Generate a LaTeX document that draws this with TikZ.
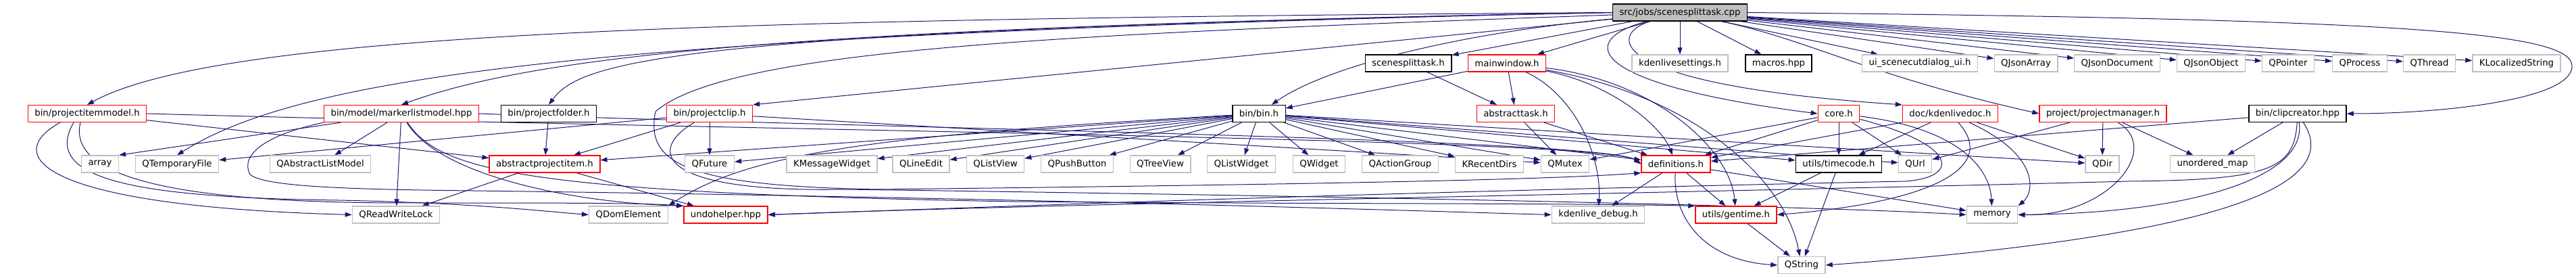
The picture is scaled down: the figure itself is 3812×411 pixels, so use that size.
\documentclass[tikz,border=0pt]{standalone}
\usepackage{fontspec}
\setmainfont{DejaVu Sans}
\usepackage{tikz}
\usetikzlibrary{arrows.meta,backgrounds}
\definecolor{edgeblue}{HTML}{191970}
\definecolor{boxgray}{HTML}{BFBFBF}

\begin{document}
\begin{tikzpicture}[
  x=1pt, y=-1pt,
  hdr/.style={draw=black, line width=1.3pt, fill=white, minimum height=25pt,
              inner xsep=10pt, inner ysep=0pt, font=\fontsize{13.3}{16}\selectfont},
  hdrred/.style={hdr, draw=red},
  hdrsys/.style={hdr, draw=boxgray},
  hdrroot/.style={hdr, fill=boxgray},
  inc/.style={-{Triangle[length=10pt,width=7pt]}, edgeblue, line width=1pt}
]
  \useasboundingbox (0,0) rectangle (3812,411);

  % the file itself
  \node[hdrroot] (root) at (2486,18.5) {src/jobs/scenesplittask.cpp};

  % first level
  \node[hdr]    (sst) at (2084,93.5) {scenesplittask.h};
  \node[hdrred] (mw)  at (2230,93.5) {mainwindow.h};
  \node[hdrsys] (ks)  at (2486,93.5) {kdenlivesettings.h};
  \node[hdr]    (mac) at (2632,93.5) {macros.hpp};
  \node[hdrsys] (ui)  at (2841,93.5) {ui\_scenecutdialog\_ui.h};
  \node[hdrsys] (qja) at (2998,93.5) {QJsonArray};
  \node[hdrsys] (qjd) at (3133,93.5) {QJsonDocument};
  \node[hdrsys] (qjo) at (3272,93.5) {QJsonObject};
  \node[hdrsys] (qp)  at (3386,93.5) {QPointer};
  \node[hdrsys] (qpr) at (3492,93.5) {QProcess};
  \node[hdrsys] (qth) at (3595,93.5) {QThread};
  \node[hdrsys] (kls) at (3724,93.5) {KLocalizedString};

  % second level
  \node[hdrred] (pim)  at (129,168)  {bin/projectitemmodel.h};
  \node[hdrred] (mlm)  at (594,168)  {bin/model/markerlistmodel.hpp};
  \node[hdr]    (pf)   at (812,168)  {bin/projectfolder.h};
  \node[hdrred] (pc)   at (1050,168) {bin/projectclip.h};
  \node[hdr]    (bin)  at (1863,168) {bin/bin.h};
  \node[hdrred] (at)   at (2243,168) {abstracttask.h};
  \node[hdrred] (core) at (2721,168) {core.h};
  \node[hdrred] (doc)  at (2886,168) {doc/kdenlivedoc.h};
  \node[hdrred] (pm)   at (3112,168) {project/projectmanager.h};
  \node[hdr]    (cc)   at (3400,168) {bin/clipcreator.hpp};

  % third level
  \node[hdrsys] (arr)  at (148,242.5)  {array};
  \node[hdrsys] (qtf)  at (262,242.5)  {QTemporaryFile};
  \node[hdrsys] (qalm) at (474,242.5)  {QAbstractListModel};
  \node[hdrred] (api)  at (806,242.5)  {abstractprojectitem.h};
  \node[hdrsys] (qfu)  at (1050,242.5) {QFuture};
  \node[hdrsys] (kmw)  at (1231,242.5) {KMessageWidget};
  \node[hdrsys] (qle)  at (1363,242.5) {QLineEdit};
  \node[hdrsys] (qlv)  at (1473,242.5) {QListView};
  \node[hdrsys] (qpb)  at (1594,242.5) {QPushButton};
  \node[hdrsys] (qtv)  at (1717,242.5) {QTreeView};
  \node[hdrsys] (qlw)  at (1837,242.5) {QListWidget};
  \node[hdrsys] (qw)   at (1952,242.5) {QWidget};
  \node[hdrsys] (qag)  at (2072,242.5) {QActionGroup};
  \node[hdrsys] (krd)  at (2204,242.5) {KRecentDirs};
  \node[hdrsys] (qmu)  at (2316,242.5) {QMutex};
  \node[hdrred] (def)  at (2480,242.5) {definitions.h};
  \node[hdr]    (tc)   at (2721,242.5) {utils/timecode.h};
  \node[hdrsys] (qurl) at (2834,242.5) {QUrl};
  \node[hdrsys] (qdir) at (3111,242.5) {QDir};
  \node[hdrsys] (um)   at (3274,242.5) {unordered\_map};

  % fourth and fifth level
  \node[hdrsys] (qrwl) at (586,317.5)  {QReadWriteLock};
  \node[hdrsys] (qde)  at (930,317.5)  {QDomElement};
  \node[hdrred] (uh)   at (1074,317.5) {undohelper.hpp};
  \node[hdrsys] (kd)   at (2365,317.5) {kdenlive\_debug.h};
  \node[hdrred] (gt)   at (2569,317.5) {utils/gentime.h};
  \node[hdrsys] (mem)  at (2948,317.5) {memory};
  \node[hdrsys] (qs)   at (2666,392)   {QString};

  \begin{scope}[on background layer]
  % includes of the .cpp
  \draw[inc] (root.west) .. controls (1100,28) and (330,45) .. (pim.north);
  \draw[inc] (root.west) .. controls (1200,40) and (800,80) .. (mlm.north);
  \draw[inc] (root.west) .. controls (900,50) and (450,110) .. (qtf.north);
  \draw[inc] (root.west) .. controls (1000,45) and (860,90) .. (pf.north);
  \draw[inc] (root) -- (pc.north east);
  \draw[inc] (root) .. controls (2150,50) and (1960,100) .. (bin);
  \draw[inc] (root) .. controls (1600,50) and (1080,70) .. (970,165)
             .. controls (955,240) and (1010,275) .. (1300,280)
             .. controls (2000,272) and (2300,265) .. (def.south west);
  \foreach \t in {sst,mw,ks,mac,ui,qja,qjd,qjo,qp,qpr,qth,kls}
    \draw[inc] (root) -- (\t);
  \draw[inc] (root) .. controls (2330,60) and (2350,125) .. (core.west);
  \draw[inc] (root) .. controls (2380,50) and (2370,125) .. (doc.north west);
  \draw[inc] (root) .. controls (2680,60) and (2760,110) .. (pm.west);
  \draw[inc] (root.east) .. controls (3600,28) and (3812,50) .. (3806,100)
             .. controls (3800,150) and (3600,168) .. (cc.east);

  % mainwindow.h
  \draw[inc] (mw) -- (bin);
  \draw[inc] (mw) -- (at);
  \draw[inc] (mw) .. controls (2330,140) and (2370,230) .. (kd);
  \draw[inc] (mw) .. controls (2390,125) and (2460,190) .. (def);
  \draw[inc] (mw) .. controls (2450,120) and (2560,220) .. (gt);
  \draw[inc] (mw) .. controls (2500,140) and (2640,260) .. (qs);
  \draw[inc] (sst) -- (at);
  \draw[inc] (at) -- (qmu);
  \draw[inc] (at) -- (def);

  % bin/bin.h
  \foreach \t in {api,qfu,kmw,qle,qlv,qpb,qtv,qlw,qw,qag,krd,qmu,def,tc,qurl,qdir}
    \draw[inc] (bin) -- (\t);
  \draw[inc] (bin) .. controls (1300,200) and (1110,225) .. (qde.north east);

  % bin/projectclip.h, bin/projectfolder.h, abstractprojectitem.h
  \draw[inc] (pc) -- (qfu);
  \draw[inc] (pc) -- (api);
  \draw[inc] (pc) -- (qtf);
  \draw[inc] (pc) -- (qmu);
  \draw[inc] (pc) .. controls (960,220) and (965,285) .. (1250,280)
             .. controls (2000,290) and (2700,305) .. (mem.west);
  \draw[inc] (pf) -- (api);
  \draw[inc] (api) -- (qrwl);
  \draw[inc] (api) -- (uh);

  % bin/projectitemmodel.h
  \draw[inc] (pim) -- (api);
  \draw[inc] (pim.east) .. controls (1200,195) and (2380,205) .. (def.west);
  \draw[inc] ([xshift=-40pt]pim.south) .. controls (0,230) and (60,305) .. (qrwl.west);
  \draw[inc] ([xshift=-20pt]pim.south) .. controls (60,265) and (200,292) .. (500,296)
             .. controls (700,300) and (800,312) .. (qde.west);
  \draw[inc] ([xshift=-10pt]pim.south) .. controls (100,260) and (250,300) .. (600,300)
             .. controls (850,300) and (950,300) .. (uh.north west);

  % bin/model/markerlistmodel.hpp
  \draw[inc] (mlm) -- (arr.north east);
  \draw[inc] (mlm) -- (qalm);
  \draw[inc] (mlm) -- (qrwl);
  \draw[inc] (mlm.east) .. controls (1300,190) and (2380,205) .. (def.west);
  \draw[inc] (mlm) .. controls (650,260) and (850,300) .. (uh.north west);
  \draw[inc] (mlm) .. controls (650,250) and (760,285) .. (1500,298)
             .. controls (2000,302) and (2300,300) .. (gt.north west);
  \draw[inc] (mlm.south west) .. controls (390,200) and (355,230) .. (370,258)
             .. controls (390,275) and (500,280) .. (700,282)
             .. controls (1500,292) and (2100,312) .. (kd.west);

  % definitions.h and the utils
  \draw[inc] (def) -- (kd);
  \draw[inc] (def) -- (gt);
  \draw[inc] (def) -- (mem);
  \draw[inc] (def) .. controls (2475,320) and (2520,385) .. (qs.west);
  \draw[inc] (gt) -- (qs);
  \draw[inc] (tc) -- (gt);
  \draw[inc] (tc) -- (qs);

  % core.h
  \draw[inc] (core) -- (qmu);
  \draw[inc] (core) -- (def);
  \draw[inc] (core) -- (tc);
  \draw[inc] (core) -- (qurl);
  \draw[inc] (core) .. controls (2900,190) and (2945,250) .. (mem);
  \draw[inc] (core) .. controls (2900,215) and (2900,262) .. (2820,268)
             .. controls (2000,285) and (1500,305) .. (uh.east);

  % doc/kdenlivedoc.h
  \draw[inc] (doc) -- (def);
  \draw[inc] (doc) -- (tc);
  \draw[inc] (doc) -- (qdir);
  \draw[inc] (doc) .. controls (2960,250) and (2850,300) .. (gt.east);
  \draw[inc] (doc) .. controls (3020,230) and (3010,285) .. (mem.north east);

  % project/projectmanager.h
  \draw[inc] (pm) -- (qdir);
  \draw[inc] (pm) -- (um);
  \draw[inc] (pm) -- (qurl);
  \draw[inc] (pm) .. controls (3200,220) and (3120,320) .. (mem.east);

  % bin/clipcreator.hpp
  \draw[inc] (cc) -- (um);
  \draw[inc] (cc) -- (def);
  \draw[inc] (cc) .. controls (3395,250) and (3360,266) .. (3150,268)
             .. controls (2500,285) and (1600,300) .. (uh.east);
  \draw[inc] (cc) .. controls (3415,260) and (3250,315) .. (mem.east);
  \draw[inc] (cc) .. controls (3460,260) and (3350,345) .. (qs.east);
  \end{scope}
\end{tikzpicture}
\end{document}
